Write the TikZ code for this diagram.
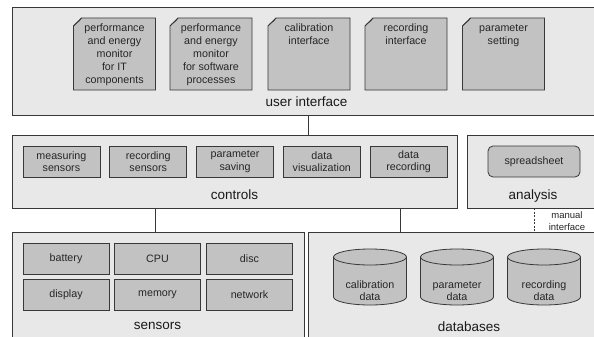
\documentclass[tikz,border=0pt]{standalone}
\usepackage{fontspec}
\setmainfont{Liberation Sans}
\definecolor{panelgray}{gray}{0.91}
\definecolor{boxgray}{gray}{0.76}
\definecolor{linegray}{gray}{0.22}
\begin{document}
\begin{tikzpicture}[x=1pt,y=-1pt,
  panel/.style={draw=linegray, fill=panelgray, line width=0.9pt, inner sep=0pt, outer sep=0pt},
  box/.style={draw=linegray, fill=boxgray, line width=0.8pt, align=center,
    font=\fontsize{10.7}{12.5}\selectfont, text=black!85, inner sep=0pt, outer sep=0pt},
  doctext/.style={align=center, font=\fontsize{10.7}{13}\selectfont, text=black!85, inner sep=0pt, anchor=north},
  lbl/.style={font=\fontsize{13.5}{16}\selectfont, text=black!90},
  small/.style={font=\fontsize{9.5}{12}\selectfont, text=black!85, align=center},
  conn/.style={draw=linegray, line width=0.8pt}]
\useasboundingbox (0,0) rectangle (594,337);
\clip (0,0) rectangle (594,337);
\fill[white] (0,0) rectangle (594,337);

% panels
\node[panel, minimum width=590pt, minimum height=108pt] (ui) at (307,61) {};
\node[panel, minimum width=445pt, minimum height=73pt] (ctl) at (234.5,171.5) {};
\node[panel, minimum width=134pt, minimum height=73pt] (ana) at (534,171.5) {};
\node[panel, minimum width=292pt, minimum height=120pt] (sen) at (158,292) {};
\node[panel, minimum width=300pt, minimum height=120pt] (db) at (458,292) {};

% panel labels
\node[lbl] (uil) at (306.5,102) {user interface};
\node[lbl] (ctll) at (234.5,195) {controls};
\node[lbl] (anal) at (533,196) {analysis};
\node[lbl] (senl) at (157.5,326) {sensors};
\node[lbl] (dbl) at (469,327) {databases};

% documents in user interface
\newcommand\mydoc[3]{% name, cx, text
  \node[minimum width=82pt, minimum height=72pt, inner sep=0pt, outer sep=0pt] (#1) at (#2,54) {};
  \draw[fill=boxgray, draw=linegray, line width=0.8pt]
    ([xshift=8pt]#1.north west) -- (#1.north east) -- (#1.south east)
    -- (#1.south west) -- ([yshift=-8pt]#1.north west) -- cycle;
  \draw[draw=linegray, line width=0.6pt]
    ([yshift=-8pt]#1.north west) .. controls ([xshift=3pt,yshift=-4pt]#1.north west) and ([xshift=5pt,yshift=-5pt]#1.north west) .. ([xshift=8pt]#1.north west);
  \node[doctext] (#1t) at ([yshift=-4.2pt]#1.north) {#3};
}
\mydoc{d1}{114.5}{\strut performance\\and energy\\monitor\\for IT\\components}
\mydoc{d2}{211}{\strut performance\\and energy\\monitor\\for software\\processes}
\mydoc{d3}{309}{\strut calibration\\interface}
\mydoc{d4}{406}{\strut recording\\interface}
\mydoc{d5}{503.5}{\strut parameter\\setting}

% controls boxes
\node[box, minimum width=77pt, minimum height=31pt] (c1) at (61.4,161.5) {measuring\\sensors};
\node[box, minimum width=77pt, minimum height=31pt] (c2) at (148.2,161.5) {recording\\sensors};
\node[box, minimum width=77pt, minimum height=31pt] (c3) at (235,161.5) {parameter\\saving};
\node[box, minimum width=77pt, minimum height=31pt] (c4) at (321.8,161.5) {data\\visualization};
\node[box, minimum width=77pt, minimum height=31pt] (c5) at (408.6,161.5) {data\\recording};

% analysis
\node[box, rounded corners=5pt, minimum width=92pt, minimum height=31pt] (sp) at (534,161.5) {spreadsheet};

% sensors boxes
\node[box, minimum width=86pt, minimum height=31pt] (s1) at (66,258.5) {battery};
\node[box, minimum width=86pt, minimum height=31pt] (s2) at (157.5,258.5) {CPU};
\node[box, minimum width=86pt, minimum height=31pt] (s3) at (249.5,258.5) {disc};
\node[box, minimum width=86pt, minimum height=31pt] (s4) at (66,294.5) {display};
\node[box, minimum width=86pt, minimum height=31pt] (s5) at (157.5,294.5) {memory};
\node[box, minimum width=86pt, minimum height=31pt] (s6) at (249.5,294.5) {network};

% cylinders
\newcommand\mycyl[3]{% name, cx, text
  \node[minimum width=73pt, minimum height=56pt, inner sep=0pt, outer sep=0pt] (#1) at (#2,277) {};
  \draw[fill=boxgray, draw=linegray, line width=0.8pt]
    ([yshift=-8pt]#1.north west) -- ([yshift=8pt]#1.south west)
    arc[start angle=180, end angle=360, x radius=36.5pt, y radius=8pt]
    -- ([yshift=-8pt]#1.north east)
    arc[start angle=0, end angle=180, x radius=36.5pt, y radius=8pt] -- cycle;
  \draw[draw=linegray, line width=0.8pt]
    ([yshift=-8pt]#1.north west) arc[start angle=180, end angle=360, x radius=36.5pt, y radius=8pt];
  \node[align=center, font=\fontsize{10.7}{12}\selectfont, text=black!85, inner sep=0pt] (#1t) at (#2,291) {#3};
}
\mycyl{b1}{370}{calibration\\data}
\mycyl{b2}{457}{parameter\\data}
\mycyl{b3}{544}{recording\\data}

% connectors
\coordinate (x1) at (308,0);
\coordinate (x2) at (155,0);
\coordinate (x3) at (400,0);
\coordinate (x4) at (534,0);
\draw[conn] (ui.south -| x1) -- (ctl.north -| x1);
\draw[conn] (ctl.south -| x2) -- (sen.north -| x2);
\draw[conn] (ctl.south -| x3) -- (db.north -| x3);
\draw[conn, dash pattern=on 2pt off 1.5pt, line width=0.7pt] (ana.south -| x4) -- (db.north -| x4);
\node[small] (mi) at (567,221) {manual\\interface};
\end{tikzpicture}
\end{document}
